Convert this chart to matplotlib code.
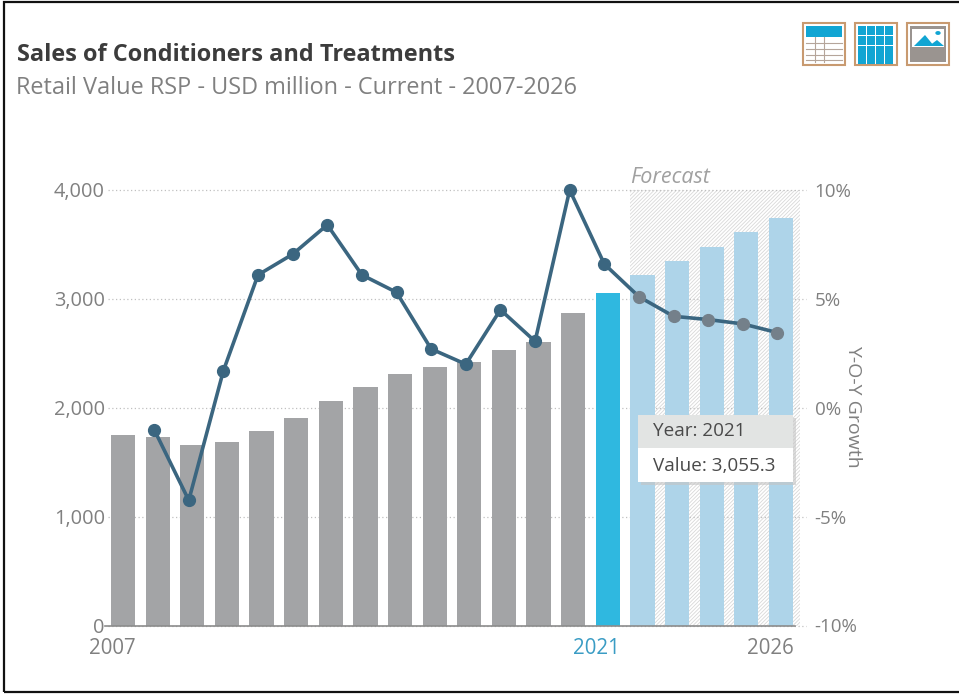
import matplotlib
matplotlib.use("Agg")
import matplotlib.pyplot as plt
from matplotlib.patches import Rectangle, Polygon, Circle
from matplotlib.transforms import ScaledTranslation

W, H = 959, 698

years = list(range(2007, 2027))
sales = [1750, 1735, 1660, 1690, 1790, 1905, 2065, 2195, 2310, 2370,
         2420, 2530, 2600, 2870, 3055.3, 3215, 3350, 3480, 3610, 3745]
growth_years = list(range(2008, 2027))
growth = [-1.0, -4.25, 1.7, 6.1, 7.05, 8.4, 6.1, 5.3, 2.7, 2.0,
          4.5, 3.05, 10.0, 6.6, 5.1, 4.2, 4.05, 3.85, 3.45]
left_ticks = [0, 1000, 2000, 3000, 4000]
right_ticks = [-10, -5, 0, 5, 10]
x_labels = [(2007, "2007"), (2021, "2021"), (2026, "2026")]

GREY = "#a3a4a6"
CURRENT = "#2fb8e0"
FORECAST = "#aed4e9"
LINE = "#3b6680"
TEXT = "#808080"

plt.rcParams["font.family"] = ["Open Sans", "DejaVu Sans"]
plt.rcParams["hatch.linewidth"] = 0.6

fig = plt.figure(figsize=(W / 100, H / 100), dpi=100)


def px(x, y):
    return x / W, 1 - y / H


def box(x, y, w, h, **kw):
    # rectangle given in pixels from the top left
    fig.add_artist(Rectangle((x / W, 1 - (y + h) / H), w / W, h / H,
                             transform=fig.transFigure, **kw))


# frame of the screenshot
box(4, 2, 960, 690, fc="none", ec="#111111", lw=1.6)

fig.text(*px(17, 55), "Sales of Conditioners and Treatments", fontsize=16.9,
         fontweight="bold", color="#3c3c3c", va="center")
fig.text(*px(16, 88), "Retail Value RSP - USD million - Current - 2007-2026",
         fontsize=16.9, color="#808080", va="center")

ax = fig.add_axes([105 / W, 1 - 625.5 / H, 695 / W, 435.5 / H])
ax.set_xlim(2006.48, 2026.55)
ax.set_ylim(0, 4000)
for s in ["top", "left", "right"]:
    ax.spines[s].set_visible(False)
ax.spines["bottom"].set_color("#8c8c8c")
ax.spines["bottom"].set_linewidth(1.2)
ax.spines["bottom"].set_bounds(2006.48, 2026.4)

# forecast zone
ax.axvspan(2021.65, 2026.55, fc="white", ec="#d8d8d8", hatch="/////////", lw=0, zorder=0)
ax.text(2021.65, 4020, "Forecast", style="italic", fontsize=15.5, color="#a0a0a0",
        va="bottom", ha="left")

for t in left_ticks:
    ax.plot([0.004, 1.008], [t, t], transform=ax.get_yaxis_transform(), clip_on=False,
            color="#c0c0c0", lw=0.9, ls=(0, (1, 2)), zorder=1)

colors = [GREY if y < 2021 else CURRENT if y == 2021 else FORECAST for y in years]
ax.bar(years, sales, width=0.7, color=colors, zorder=2)

ax.set_yticks(left_ticks)
ax.set_yticklabels([f"{t:,}" for t in left_ticks], fontsize=14.4, color=TEXT)
ax.set_xticks([y for y, _ in x_labels])
ax.set_xticklabels([l for _, l in x_labels], fontsize=14.8, color=TEXT)
ax.get_xticklabels()[1].set_color("#3a9cc4")
ax.tick_params(axis="both", length=0)
ax.tick_params(axis="y", pad=0)
ax.tick_params(axis="x", pad=9)
shift_left = ScaledTranslation(-11 / 100, 0, fig.dpi_scale_trans)
for lab in ax.get_xticklabels():
    lab.set_transform(lab.get_transform() + shift_left)

ax2 = ax.twinx()
ax2.set_ylim(-10, 10)
for s in ax2.spines.values():
    s.set_visible(False)
ax2.set_yticks(right_ticks)
ax2.set_yticklabels([f"{t}%" for t in right_ticks], fontsize=13.5, color=TEXT, ha="left")
ax2.tick_params(axis="y", length=0, pad=10.5)

# the growth line sits a little left of the bar centres in the original
line_tr = ax2.transData + ScaledTranslation(-3.5 / 100, 0, fig.dpi_scale_trans)
ax2.plot(growth_years, growth, color=LINE, lw=2.6, zorder=3, transform=line_tr, clip_on=False)
hist = [g for y, g in zip(growth_years, growth) if y <= 2021]
fore = [g for y, g in zip(growth_years, growth) if y > 2021]
ax2.plot(growth_years[:len(hist)], hist, ls="none", marker="o", ms=8.5, color=LINE,
         zorder=4, transform=line_tr, clip_on=False)
ax2.plot(growth_years[len(hist):], fore, ls="none", marker="o", ms=8.5, color="#74808a",
         zorder=4, transform=line_tr, clip_on=False)

fig.text(*px(853, 406), "Y-O-Y Growth", rotation=270, fontsize=14, color=TEXT,
         ha="center", va="center")

# tooltip
box(641, 418, 155, 67, fc="#c4c4c4", ec="none", alpha=0.6, zorder=5)
box(638, 415, 155, 33, fc="#e2e4e3", ec="none", zorder=6)
box(638, 448, 155, 34, fc="white", ec="none", zorder=6)
fig.text(*px(653, 431), "Year: 2021", fontsize=13.6, color="#4a4a4a", va="center", zorder=7)
fig.text(*px(653, 466), "Value: 3,055.3", fontsize=13.6, color="#4a4a4a", va="center", zorder=7)

# toolbar icons
ICON = "#11a5d3"
EDGE = "#c89a70"
box(803, 23, 42, 42, fc="white", ec=EDGE, lw=1.5)
box(806, 26, 36, 11, fc=ICON, ec="none")
for yy in [43, 49, 55, 60]:
    fig.add_artist(plt.Line2D([806 / W, 842 / W], [1 - yy / H] * 2, color="#b5a59a", lw=0.8))
for xx in [815, 824]:
    fig.add_artist(plt.Line2D([xx / W] * 2, [1 - 37 / H, 1 - 62 / H], color="#b5a59a", lw=0.8))
box(855, 23, 42, 42, fc="white", ec=EDGE, lw=1.5)
for xx in [858, 867, 876, 885]:
    for yy in [26, 36, 46, 55]:
        box(xx, yy, 8, 8.5, fc=ICON, ec="none")
box(907, 23, 42, 42, fc="white", ec=EDGE, lw=1.5)
box(910, 26, 36, 36, fc="#9a9490", ec="none")
box(912, 29, 32, 18, fc="white", ec="none")
for pts in [[(914, 46), (925, 35), (934, 46)], [(929, 46), (937, 40), (944, 46)]]:
    fig.add_artist(Polygon([px(*p) for p in pts], transform=fig.transFigure, fc=ICON, ec="none"))
fig.add_artist(Circle(px(938, 33), 0.0028, transform=fig.transFigure, fc=ICON, ec="none"))

fig.savefig("out.png", dpi=100)
